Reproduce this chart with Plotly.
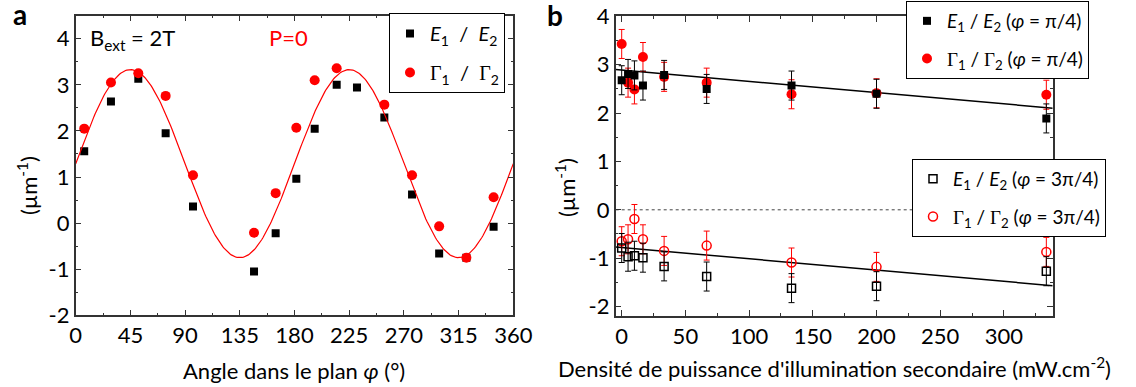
import numpy as np
import plotly.graph_objects as go

# ---------------------------------------------------------------------------
# Panel a: ratios vs in-plane angle (B_ext = 2T, P = 0)
# ---------------------------------------------------------------------------
angle_e = [7, 29, 51.5, 74, 96.5, 146.7, 164.5, 181.5, 196.6, 214.7, 231.4, 253.9, 276.7, 299, 321.4, 343.8]
ratio_e = [1.56, 2.64, 3.13, 1.95, 0.36, -1.05, -0.22, 0.96, 2.05, 3.0, 2.94, 2.29, 0.62, -0.66, -0.75, -0.08]
angle_g = [7, 29, 51.5, 74, 96.5, 146.7, 164.5, 181.5, 196.6, 214.7, 253.9, 276.7, 299, 321.4, 343.8]
ratio_g = [2.05, 3.05, 3.25, 2.76, 1.04, -0.21, 0.65, 2.07, 3.1, 3.36, 2.57, 1.04, -0.07, -0.75, 0.56]
fit_offset, fit_amp = 1.29, 2.04  # y = offset + amp * sin(2 phi)

# ---------------------------------------------------------------------------
# Panel b: ratios vs secondary illumination power density
# ---------------------------------------------------------------------------
power = [0, 5, 10, 16.7, 33.3, 66.7, 133.3, 200, 333.3]
e_pi4 = [2.68, 2.81, 2.78, 2.57, 2.79, 2.50, 2.57, 2.40, 1.89]
g_pi4 = [3.43, 2.63, 2.49, 3.16, 2.75, 2.63, 2.39, 2.41, 2.38]
e_3pi4 = [-0.79, -0.97, -0.95, -0.99, -1.17, -1.38, -1.62, -1.58, -1.27]
g_3pi4 = [-0.65, -0.61, -0.19, -0.61, -0.85, -0.74, -1.09, -1.18, -0.87]
err_e_pi4 = [0.3, 0.3, 0.3, 0.3, 0.3, 0.3, 0.3, 0.3, 0.3]
err_g_pi4 = [0.3, 0.3, 0.3, 0.3, 0.3, 0.3, 0.3, 0.3, 0.3]
err_e_3pi4 = [0.3, 0.3, 0.3, 0.3, 0.3, 0.3, 0.3, 0.3, 0.3]
err_g_3pi4 = [0.3, 0.3, 0.3, 0.3, 0.3, 0.3, 0.3, 0.3, 0.3]
fit_slope = -0.00233
fit_icpt_pi4, fit_icpt_3pi4 = 2.89, -0.78

XA_RANGE, YA_RANGE = [0, 360], [-2, 4.5]
XB_RANGE, YB_RANGE = [-4.7, 338.3], [-2.19, 4.0]

W, H = 1136, 387
RED = "#ff0000"
TICK_FONT = dict(family="Lato", size=22, color="black")
LEG_FONT = dict(family="Lato", size=19, color="black")
TITLE_FONT = dict(family="Lato", size=22, color="black")
GAM = '<span style="font-family:Liberation Serif">Γ</span>'
E_LABEL = "<i>E</i><sub>1</sub> / <i>E</i><sub>2</sub>"
G_LABEL = f"{GAM}<sub>1</sub> / {GAM}<sub>2</sub>"
E_LABEL_A = "<i>E</i><sub>1</sub> \u00a0/\u00a0 <i>E</i><sub>2</sub>"
G_LABEL_A = f"{GAM}<sub>1</sub> \u00a0/\u00a0 {GAM}<sub>2</sub>"

fig = go.Figure()

# --- panel a ---
fig.add_trace(go.Scatter(
    x=angle_e, y=ratio_e, mode="markers", name=E_LABEL_A, legend="legend", legendgroup="ea",
    marker=dict(symbol="square", size=8, color="black"), xaxis="x", yaxis="y",
))
fit_x = np.linspace(XA_RANGE[0], XA_RANGE[1], 361)
fig.add_trace(go.Scatter(
    x=fit_x, y=fit_offset + fit_amp * np.sin(2 * np.radians(fit_x)), mode="lines",
    line=dict(color=RED, width=1.2), showlegend=False, xaxis="x", yaxis="y",
))
fig.add_trace(go.Scatter(
    x=angle_g, y=ratio_g, mode="markers", name=G_LABEL_A, legend="legend", legendgroup="ga",
    marker=dict(symbol="circle", size=10, color=RED), xaxis="x", yaxis="y",
))

# --- panel b ---
line_x = np.array(XB_RANGE)
for icpt in (fit_icpt_pi4, fit_icpt_3pi4):
    fig.add_trace(go.Scatter(
        x=line_x, y=icpt + fit_slope * line_x, mode="lines",
        line=dict(color="black", width=1.5), showlegend=False, xaxis="x2", yaxis="y2",
    ))


def err(arr, color):
    return dict(type="data", array=arr, color=color, thickness=1, width=3)


fig.add_trace(go.Scatter(
    x=power, y=g_pi4, mode="markers", legend="legend2", legendrank=2, legendgroup="g1",
    name=G_LABEL + " (<i>φ</i> = π/4)", error_y=err(err_g_pi4, RED),
    marker=dict(symbol="circle", size=10, color=RED), xaxis="x2", yaxis="y2",
))
fig.add_trace(go.Scatter(
    x=power, y=e_pi4, mode="markers", legend="legend2", legendrank=1, legendgroup="e1",
    name=E_LABEL + " (<i>φ</i> = π/4)", error_y=err(err_e_pi4, "black"),
    marker=dict(symbol="square", size=8, color="black"), xaxis="x2", yaxis="y2",
))
fig.add_trace(go.Scatter(
    x=power, y=g_3pi4, mode="markers", legend="legend3", legendrank=2, legendgroup="g3",
    name=G_LABEL + " (<i>φ</i> = 3π/4)", error_y=err(err_g_3pi4, RED),
    marker=dict(symbol="circle-open", size=9, color=RED, line=dict(width=1.5)),
    xaxis="x2", yaxis="y2",
))
fig.add_trace(go.Scatter(
    x=power, y=e_3pi4, mode="markers", legend="legend3", legendrank=1, legendgroup="e3",
    name=E_LABEL + " (<i>φ</i> = 3π/4)", error_y=err(err_e_3pi4, "black"),
    marker=dict(symbol="square-open", size=8, color="black", line=dict(width=1.5)),
    xaxis="x2", yaxis="y2",
))

# dotted zero line in panel b
fig.add_shape(type="line", xref="x2", yref="y2", x0=XB_RANGE[0], x1=XB_RANGE[1], y0=0, y1=0,
              line=dict(color="#444", width=1, dash="dot"), layer="below")

axis_common = dict(
    showline=True, linecolor="#333", linewidth=1.5, mirror="ticks",
    ticks="inside", ticklen=6, tickwidth=1.2, tickcolor="#333",
    showgrid=False, zeroline=False, tickfont=TICK_FONT,
)

ya_ticks = [-2, -1, 0, 1, 2, 3, 4]
xa_ticks = [0, 45, 90, 135, 180, 225, 270, 315, 360]
yb_ticks = [-2, -1, 0, 1, 2, 3, 4]
xb_ticks = [0, 50, 100, 150, 200, 250, 300]

legend_common = dict(
    bgcolor="white", bordercolor="black", borderwidth=1, font=LEG_FONT,
    xanchor="left", yanchor="top", tracegroupgap=10,
)

fig.update_layout(
    width=W, height=H, margin=dict(l=0, r=0, t=0, b=0, autoexpand=False),
    paper_bgcolor="white", plot_bgcolor="white",
    xaxis=dict(axis_common, domain=[75.7 / W, 513.3 / W], range=XA_RANGE, anchor="y",
               tickvals=xa_ticks, ticktext=[str(v) for v in xa_ticks],
               minor=dict(ticks="inside", ticklen=3, dtick=22.5, tickcolor="#333")),
    yaxis=dict(axis_common, domain=[1 - 315.3 / H, 1 - 15.7 / H], range=YA_RANGE, anchor="x",
               tickvals=ya_ticks, ticktext=[str(v) for v in ya_ticks],
               minor=dict(ticks="inside", ticklen=3, dtick=0.5, tickcolor="#333")),
    xaxis2=dict(axis_common, domain=[615.7 / W, 1052.7 / W], range=XB_RANGE, anchor="y2",
                tickvals=xb_ticks, ticktext=[str(v) for v in xb_ticks],
                minor=dict(ticks="inside", ticklen=3, dtick=25, tickcolor="#333")),
    yaxis2=dict(axis_common, domain=[1 - 315.7 / H, 1 - 16.4 / H], range=YB_RANGE, anchor="x2",
                tickvals=yb_ticks, ticktext=[str(v) for v in yb_ticks],
                minor=dict(ticks="inside", ticklen=3, dtick=0.5, tickcolor="#333")),
    legend=dict(legend_common, x=389 / W, y=1 - 13 / H, font=dict(LEG_FONT, size=20)),
    legend2=dict(legend_common, x=906 / W, y=1 - 1 / H),
    legend3=dict(legend_common, x=912 / W, y=1 - 159 / H),
)


def note(text, xp, yp, font, **kw):
    fig.add_annotation(text=text, x=xp / W, y=1 - yp / H, xref="paper", yref="paper",
                       xanchor=kw.pop("xanchor", "center"), yanchor="middle",
                       showarrow=False, font=font, **kw)


note("<b>a</b>", 20, 14, dict(family="Lato", size=28, color="black"))
note("<b>b</b>", 555, 15, dict(family="Lato", size=28, color="black"))
note("B<sub>ext</sub> = 2T", 88, 39, dict(family="Lato", size=22, color="black"), xanchor="left")
note("P=0", 288, 38, dict(family="Lato", size=22, color=RED))
note("Angle dans le plan <i>φ</i> (°)", 294, 370, TITLE_FONT)
note("Densité de puissance d'illumination secondaire (mW.cm<sup>-2</sup>)", 834, 367, TITLE_FONT)
note("(µm<sup>-1</sup>)", 27, 186, TITLE_FONT, textangle=-90)
note("(µm<sup>-1</sup>)", 565, 188, TITLE_FONT, textangle=-90)

# the page body has a default 8px margin; drop it so the figure fills the window
fig.write_html("out.html", config={"displayModeBar": False},
               post_script="document.body.style.margin='0';")
